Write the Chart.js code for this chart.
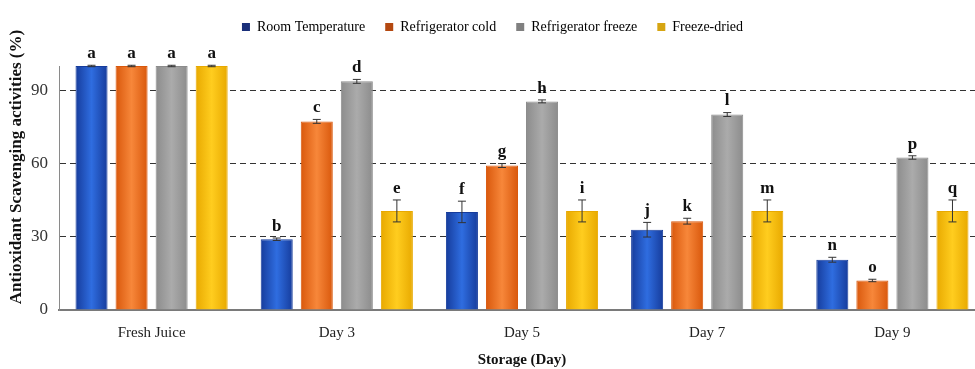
<!DOCTYPE html>
<html>
<head>
<meta charset="utf-8">
<script src="https://cdn.jsdelivr.net/npm/chart.js@4.4.1/dist/chart.umd.min.js"></script>
<style>
  html, body { margin: 0; padding: 0; background: #fff; overflow: hidden; }
  #wrap { width: 995px; height: 369px; }
</style>
</head>
<body>
<div id="wrap"><canvas id="myChart"></canvas></div>
<script>
// storage days and mean scavenging activity (%) per treatment
const days = ['Fresh Juice', 'Day 3', 'Day 5', 'Day 7', 'Day 9'];
const roomTemp = [100, 29.0, 40.2, 32.9, 20.6];
const fridgeCold = [100, 77.3, 59.2, 36.4, 12.1];
const fridgeFreeze = [100, 93.7, 85.5, 80.1, 62.5];
const freezeDried = [100, 40.6, 40.6, 40.6, 40.6];

// standard deviations
const roomTempErr = [0.3, 0.5, 4.4, 3.0, 1.0];
const fridgeColdErr = [0.3, 0.8, 0.8, 1.2, 0.5];
const fridgeFreezeErr = [0.3, 0.8, 0.6, 0.8, 0.7];
const freezeDriedErr = [0.3, 4.5, 4.5, 4.5, 4.5];

// significance letters
const roomTempLetters = ['a', 'b', 'f', 'j', 'n'];
const fridgeColdLetters = ['a', 'c', 'g', 'k', 'o'];
const fridgeFreezeLetters = ['a', 'd', 'h', 'l', 'p'];
const freezeDriedLetters = ['a', 'e', 'i', 'm', 'q'];

const yTicks = [0, 30, 60, 90];
const yTitle = 'Antioxidant Scavenging activities (%)';

const serif = "'Liberation Serif', 'Times New Roman', serif";

// edge / centre colours for the shaded bars, plus the legend swatch
const shades = [
    { edge: '#163c9c', mid: '#2f6de0', key: '#1a2f7a' },
    { edge: '#d9580c', mid: '#f7873a', key: '#b44810' },
    { edge: '#8c8c8c', mid: '#ababab', key: '#808080' },
    { edge: '#e8a900', mid: '#ffcd1f', key: '#d6a512' }
];

const data = {
    labels: days,
    datasets: [
        { label: 'Room Temperature', data: roomTemp, errors: roomTempErr, letters: roomTempLetters },
        { label: 'Refrigerator cold', data: fridgeCold, errors: fridgeColdErr, letters: fridgeColdLetters },
        { label: 'Refrigerator freeze', data: fridgeFreeze, errors: fridgeFreezeErr, letters: fridgeFreezeLetters },
        { label: 'Freeze-dried', data: freezeDried, errors: freezeDriedErr, letters: freezeDriedLetters }
    ].map((ds, i) => Object.assign(ds, {
        backgroundColor: () => shades[i].mid,
        borderColor: shades[i].edge,
        borderWidth: 1,
        categoryPercentage: 0.865,
        barPercentage: 0.8
    }))
};

// extra room under the legend
const legendGap = {
    id: 'legendGap',
    beforeInit(chart) {
        const fit = chart.legend.fit;
        chart.legend.fit = function () {
            fit.call(this);
            this.height += 22;
        };
    }
};

// horizontal shading on every bar
const barShading = {
    id: 'barShading',
    beforeDatasetsDraw(chart) {
        const ctx = chart.ctx;
        chart.data.datasets.forEach((ds, i) => {
            chart.getDatasetMeta(i).data.forEach(bar => {
                const half = bar.width / 2;
                const g = ctx.createLinearGradient(bar.x - half, 0, bar.x + half, 0);
                g.addColorStop(0, shades[i].edge);
                g.addColorStop(0.5, shades[i].mid);
                g.addColorStop(1, shades[i].edge);
                bar.options.backgroundColor = g;
            });
        });
    }
};

// error bars and letters above each bar, plus the y axis title
const errorLetters = {
    id: 'errorLetters',
    afterDatasetsDraw(chart) {
        const ctx = chart.ctx;
        const y = chart.scales.y;
        ctx.save();
        chart.data.datasets.forEach((ds, i) => {
            chart.getDatasetMeta(i).data.forEach((bar, j) => {
                const v = ds.data[j], e = ds.errors[j];
                const top = y.getPixelForValue(v + e);
                const bot = y.getPixelForValue(v - e);
                ctx.strokeStyle = '#333';
                ctx.lineWidth = 1;
                ctx.beginPath();
                ctx.moveTo(bar.x, top); ctx.lineTo(bar.x, bot);
                ctx.moveTo(bar.x - 4, top); ctx.lineTo(bar.x + 4, top);
                ctx.moveTo(bar.x - 4, bot); ctx.lineTo(bar.x + 4, bot);
                ctx.stroke();
                ctx.fillStyle = '#111';
                ctx.font = 'bold 17px ' + serif;
                ctx.textAlign = 'center';
                ctx.textBaseline = 'bottom';
                ctx.fillText(ds.letters[j], bar.x, top - 3);
            });
        });
        ctx.translate(17, 167);
        ctx.rotate(-Math.PI / 2);
        ctx.font = 'bold 17px ' + serif;
        ctx.textAlign = 'center';
        ctx.textBaseline = 'middle';
        ctx.fillText(yTitle, 0, 0);
        ctx.restore();
    }
};

const config = {
    type: 'bar',
    data: data,
    plugins: [legendGap, barShading, errorLetters],
    options: {
        responsive: true,
        maintainAspectRatio: false,
        animation: false,
        layout: { padding: { top: 0, right: 10, left: 0, bottom: 0 } },
        plugins: {
            legend: {
                position: 'top',
                labels: {
                    boxWidth: 8,
                    boxHeight: 8,
                    padding: 20,
                    color: '#222',
                    font: { family: serif, size: 14 },
                    generateLabels(chart) {
                        return chart.data.datasets.map((ds, i) => ({
                            text: ds.label,
                            fillStyle: shades[i].key,
                            strokeStyle: shades[i].key,
                            lineWidth: 0,
                            datasetIndex: i
                        }));
                    }
                }
            },
            tooltip: { enabled: false }
        },
        scales: {
            x: {
                grid: { display: false },
                border: { color: '#7a7a7a', width: 2 },
                ticks: {
                    color: '#222',
                    padding: 6,
                    font: { family: serif, size: 15 }
                },
                title: {
                    display: true,
                    text: 'Storage (Day)',
                    color: '#111',
                    font: { family: serif, size: 15, weight: 'bold' },
                    padding: { top: 4, bottom: 0 }
                },
                afterFit(scale) { scale.height = 59; }
            },
            y: {
                min: 0,
                max: 100,
                afterBuildTicks(scale) {
                    scale.ticks = yTicks.map(v => ({ value: v }));
                },
                grid: {
                    drawTicks: false,
                    color: ctx => ctx.tick && ctx.tick.value === 0 ? 'rgba(0,0,0,0)' : '#333',
                    lineWidth: 1
                },
                border: { color: '#8a8a8a', width: 1, dash: [6, 4] },
                ticks: {
                    color: '#333',
                    padding: 11,
                    font: { family: serif, size: 17 }
                },
                afterFit(scale) { scale.width = 59; }
            }
        }
    }
};

var ctx = document.getElementById('myChart').getContext('2d');
var myChart = new Chart(ctx, config);
</script>
</body>
</html>
